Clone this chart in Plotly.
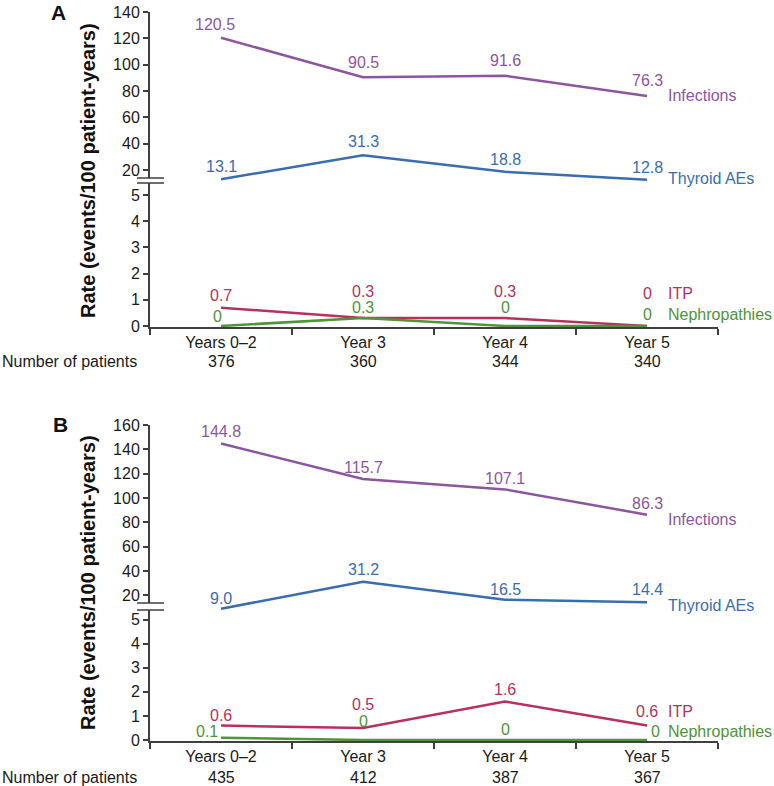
import plotly.graph_objects as go

W, H = 774, 786

CATEGORIES = ["Years 0–2", "Year 3", "Year 4", "Year 5"]
SERIES = ["Infections", "Thyroid AEs", "ITP", "Nephropathies"]

# Panel A
A_PATIENTS = [376, 360, 344, 340]
A_INFECTIONS = [120.5, 90.5, 91.6, 76.3]
A_THYROID = [13.1, 31.3, 18.8, 12.8]
A_ITP = [0.7, 0.3, 0.3, 0]
A_NEPHRO = [0, 0.3, 0, 0]

# Panel B
B_PATIENTS = [435, 412, 387, 367]
B_INFECTIONS = [144.8, 115.7, 107.1, 86.3]
B_THYROID = [9.0, 31.2, 16.5, 14.4]
B_ITP = [0.6, 0.5, 1.6, 0.6]
B_NEPHRO = [0.1, 0, 0, 0]

COLORS = {
    "Infections": "#8C569E",
    "Thyroid AEs": "#3A6DB0",
    "ITP": "#B8305C",
    "Nephropathies": "#4E9438",
}
AXIS_COLOR = "#3f3f3f"
FONT = "Arial, Liberation Sans, sans-serif"

# label offsets in pixels (xshift, yshift), hand-placed like the original
A_LABEL_SHIFT = {
    "Infections": [(-6, 13), (0, 15), (0, 15), (0, 15)],
    "Thyroid AEs": [(0, 13), (0, 14), (0, 12), (0, 12)],
    "ITP": [(0, 12), (0, 27), (0, 27), (0, 32)],
    "Nephropathies": [(-4, 9), (0, 11), (0, 18), (0, 11)],
}
A_NAME_SHIFT = {"Infections": 0, "Thyroid AEs": 1, "ITP": 32, "Nephropathies": 11}

B_LABEL_SHIFT = {
    "Infections": [(0, 12), (0, 11), (0, 11), (0, 11)],
    "Thyroid AEs": [(0, 10), (0, 12), (0, 10), (0, 13)],
    "ITP": [(0, 10), (0, 24), (0, 12), (0, 14)],
    "Nephropathies": [(-14, 6), (0, 19), (0, 11), (8, 9)],
}
B_NAME_SHIFT = {"Infections": -5, "Thyroid AEs": -3, "ITP": 14, "Nephropathies": 9}


def px_x(p):
    return p / W


def px_y(p):
    return 1 - p / H


def fmt(v):
    return "0" if v == 0 else f"{v:.1f}"


def y_axis(domain, rng, tickvals, anchor):
    return dict(
        domain=domain, range=rng, tickvals=tickvals, anchor=anchor,
        showline=True, linecolor=AXIS_COLOR, linewidth=2,
        ticks="outside", ticklen=5, tickwidth=1.5, tickcolor=AXIS_COLOR,
        showgrid=False, zeroline=False, automargin=False,
        tickfont=dict(size=16, color="#1a1a1a"),
    )


def x_axis(anchor):
    return dict(
        domain=[px_x(150), px_x(718)], anchor=anchor,
        type="category", categoryorder="array", categoryarray=CATEGORIES,
        range=[-0.5, 3.5], tickson="boundaries",
        showline=True, linecolor=AXIS_COLOR, linewidth=2,
        ticks="outside", ticklen=6, tickwidth=1.5, tickcolor=AXIS_COLOR,
        showgrid=False, zeroline=False, automargin=False,
        tickfont=dict(size=16, color="#1a1a1a"),
    )


fig = go.Figure()
annotations = []
shapes = []


def text_ann(x, y, text, xref="paper", yref="paper", **kw):
    d = dict(x=x, y=y, xref=xref, yref=yref, text=text, showarrow=False,
             xanchor="center", yanchor="middle",
             font=dict(size=16, color="#1a1a1a", family=FONT))
    d.update(kw)
    annotations.append(d)


def add_panel(xa, ya_low, ya_up, values, label_shift, name_shift):
    for name in SERIES:
        ys = values[name]
        upper = name in ("Infections", "Thyroid AEs")
        yref = ya_up if upper else ya_low
        fig.add_trace(go.Scatter(
            x=CATEGORIES, y=ys, mode="lines", name=name,
            xaxis=xa, yaxis=yref,
            line=dict(color=COLORS[name], width=2.5),
            showlegend=False, hoverinfo="skip",
        ))
        font = dict(size=16, color=COLORS[name], family=FONT)
        for i, v in enumerate(ys):
            dx, dy = label_shift[name][i]
            text_ann(CATEGORIES[i], v, fmt(v), xref=xa, yref=yref,
                     xshift=dx, yshift=dy, font=font)
        text_ann(CATEGORIES[-1], ys[-1], name, xref=xa, yref=yref,
                 xanchor="left", xshift=19, yshift=name_shift[name], font=font)


def add_break(y_top, y_bot):
    shapes.append(dict(type="rect", xref="paper", yref="paper",
                       x0=px_x(146), x1=px_x(154), y0=px_y(y_bot), y1=px_y(y_top),
                       fillcolor="white", line=dict(width=0), layer="above"))
    for yy in (y_top, y_bot):
        shapes.append(dict(type="line", xref="paper", yref="paper",
                           x0=px_x(137), x1=px_x(164), y0=px_y(yy), y1=px_y(yy),
                           line=dict(color=AXIS_COLOR, width=1.5), layer="above"))


add_panel("x", "y", "y2",
          {"Infections": A_INFECTIONS, "Thyroid AEs": A_THYROID,
           "ITP": A_ITP, "Nephropathies": A_NEPHRO},
          A_LABEL_SHIFT, A_NAME_SHIFT)
add_panel("x2", "y3", "y4",
          {"Infections": B_INFECTIONS, "Thyroid AEs": B_THYROID,
           "ITP": B_ITP, "Nephropathies": B_NEPHRO},
          B_LABEL_SHIFT, B_NAME_SHIFT)

add_break(178, 183)
add_break(603, 610)

# patient counts row
for xa, patients, row_y in (("x", A_PATIENTS, 361), ("x2", B_PATIENTS, 777)):
    text_ann(0, px_y(row_y), "Number of patients", xanchor="left")
    for i, n in enumerate(patients):
        text_ann(CATEGORIES[i], px_y(row_y), str(n), xref=xa)

# y titles and panel letters
for cy in (171, 583):
    text_ann(px_x(88), px_y(cy), "<b>Rate (events/100 patient-years)</b>",
             textangle=-90, font=dict(size=20, color="#111111", family=FONT))
for letter, lx, ly in (("A", 58, 12), ("B", 60, 424)):
    text_ann(px_x(lx), px_y(ly), f"<b>{letter}</b>",
             font=dict(size=21, color="#111111", family=FONT))

fig.update_layout(
    width=W, height=H,
    margin=dict(l=0, r=0, t=0, b=0, pad=0, autoexpand=False),
    paper_bgcolor="white", plot_bgcolor="white",
    font=dict(family=FONT, color="#1a1a1a"),
    showlegend=False,
    xaxis=x_axis("y"),
    yaxis=y_axis([px_y(327), px_y(182)], [-0.04, 5.5], [0, 1, 2, 3, 4, 5], "x"),
    yaxis2=y_axis([px_y(182), px_y(12)], [11, 140], list(range(20, 141, 20)), "x"),
    xaxis2=x_axis("y3"),
    yaxis3=y_axis([px_y(741), px_y(610)], [-0.04, 5.4], [0, 1, 2, 3, 4, 5], "x2"),
    yaxis4=y_axis([px_y(610), px_y(425)], [8, 160], list(range(20, 161, 20)), "x2"),
    annotations=annotations,
    shapes=shapes,
)

# drop the default page margin so the figure sits at the window's corner
fig.write_html(
    "out.html",
    config={"displayModeBar": False},
    post_script="document.body.style.margin='0';document.body.style.overflow='hidden';",
)
